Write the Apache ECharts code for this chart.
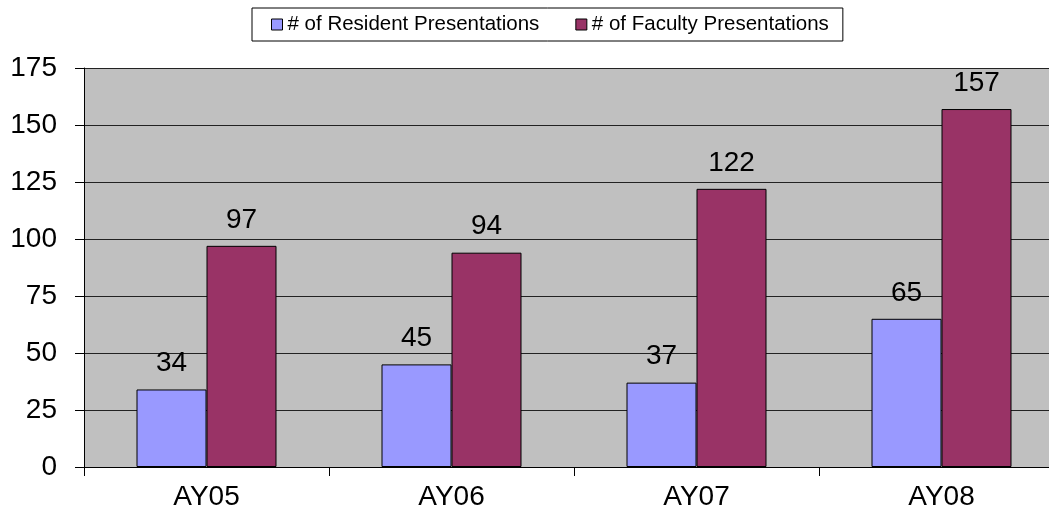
<!DOCTYPE html>
<html>
<head>
<meta charset="utf-8">
<script src="https://cdn.jsdelivr.net/npm/echarts@6/dist/echarts.min.js"></script>
<style>
  html, body { margin: 0; padding: 0; background: #fff; overflow: hidden; }
  /* the plot area runs past the right edge of the picture */
  #chart-container { width: 1064px; height: 519px; }
</style>
</head>
<body>
<div id="chart-container"></div>
<script>
// academic years
const years = ["AY05", "AY06", "AY07", "AY08"];
const residentPresentations = [34, 45, 37, 65];
const facultyPresentations = [97, 94, 122, 157];

const font = "Liberation Sans, Arial, sans-serif";

let element = document.getElementById("chart-container");
let myChart = echarts.init(element, null, { renderer: "canvas" });

let option = {
  animation: false,
  textStyle: { fontFamily: font },
  legend: {
    top: 8,
    left: 252,
    icon: "rect",
    itemWidth: 11,
    itemHeight: 11,
    itemGap: 36,
    itemStyle: { borderColor: "#000", borderWidth: 1 },
    padding: [6, 14, 6, 19],
    borderColor: "#000",
    borderWidth: 1,
    backgroundColor: "#fff",
    textStyle: { fontSize: 20.5, color: "#000", fontFamily: font },
    data: ["# of Resident Presentations", "# of Faculty Presentations"]
  },
  grid: {
    left: 84,
    top: 68,
    right: 0,
    bottom: 52,
    show: true,
    backgroundColor: "#C0C0C0",
    borderWidth: 0
  },
  xAxis: {
    type: "category",
    data: years,
    axisLine: { lineStyle: { color: "#000", width: 1 } },
    axisTick: { show: true, length: 9, lineStyle: { color: "#000" } },
    axisLabel: { color: "#000", fontSize: 28, margin: 16, fontFamily: font }
  },
  yAxis: {
    type: "value",
    min: 0,
    max: 175,
    interval: 25,
    axisLine: { show: true, lineStyle: { color: "#000", width: 1 } },
    axisTick: { show: true, length: 9, lineStyle: { color: "#000" } },
    axisLabel: { color: "#000", fontSize: 28, margin: 27, fontFamily: font },
    splitLine: { show: true, lineStyle: { color: "#222", width: 1 } }
  },
  series: [
    {
      name: "# of Resident Presentations",
      type: "bar",
      data: residentPresentations,
      barWidth: 70,
      barGap: "0%",
      itemStyle: { color: "#9999FF", borderColor: "#000", borderWidth: 1 },
      label: { show: true, position: "top", distance: 12, fontSize: 28, color: "#000", fontFamily: font }
    },
    {
      name: "# of Faculty Presentations",
      type: "bar",
      data: facultyPresentations,
      barWidth: 70,
      barGap: "0%",
      itemStyle: { color: "#993366", borderColor: "#000", borderWidth: 1 },
      label: { show: true, position: "top", distance: 12, fontSize: 28, color: "#000", fontFamily: font }
    }
  ]
};
myChart.setOption(option);
</script>
</body>
</html>
